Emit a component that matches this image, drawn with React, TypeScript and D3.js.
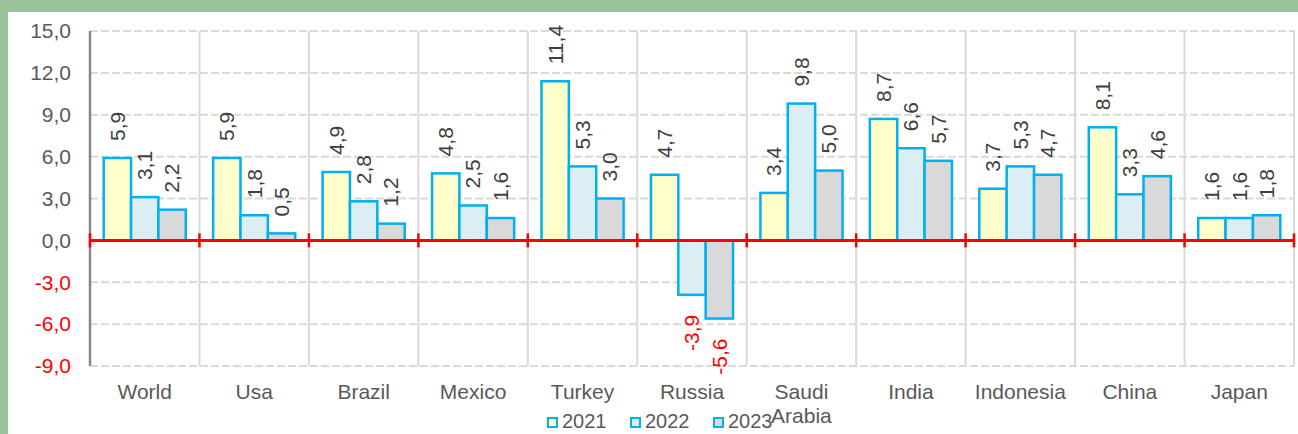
import * as d3 from 'd3';

const countries = ['World', 'Usa', 'Brazil', 'Mexico', 'Turkey', 'Russia', 'Saudi Arabia', 'India', 'Indonesia', 'China', 'Japan'];
const years = ['2021', '2022', '2023'];
const values2021 = [5.9, 5.9, 4.9, 4.8, 11.4, 4.7, 3.4, 8.7, 3.7, 8.1, 1.6];
const values2022 = [3.1, 1.8, 2.8, 2.5, 5.3, -3.9, 9.8, 6.6, 5.3, 3.3, 1.6];
const values2023 = [2.2, 0.5, 1.2, 1.6, 3.0, -5.6, 5.0, 5.7, 4.7, 4.6, 1.8];
const yTicks = [15, 12, 9, 6, 3, 0, -3, -6, -9];

const fills = ['#FFFFCC', '#DAEEF3', '#D9D9D9'];
const edge = '#00B0F0';
const font = '"Liberation Sans", Arial, sans-serif';

const fmt = (v: number) => v.toFixed(1).replace('.', ',');

export default function App() {
  const W = 1298, H = 434;
  const left = 90, right = 1294, top = 31, bottom = 366;

  const y = d3.scaleLinear().domain([-9, 15]).range([bottom, top]);
  const x0 = d3.scaleBand<string>().domain(countries).range([left, right]).paddingInner(0.25).paddingOuter(0.125);
  const x1 = d3.scaleBand<string>().domain(years).range([0, x0.bandwidth()]);
  const step = x0.step();
  const bounds = d3.range(countries.length + 1).map(i => left + i * step);

  const series = [values2021, values2022, values2023];
  const rows = countries.map((c, i) => ({ c, vals: series.map(s => s[i]) }));

  return (
    <svg width={W} height={H} style={{ position: 'absolute', left: 0, top: 0 }} fontFamily={font}>
      <rect x={0} y={0} width={W} height={H} fill="#9BC39B" />
      <rect x={8} y={12} width={W - 8} height={H - 12} fill="#fff" />

      {/* horizontal dashed grid */}
      {yTicks.filter(t => t !== 0).map(t => (
        <line key={t} x1={left} x2={right} y1={y(t)} y2={y(t)} stroke="#D9D9D9" strokeWidth={2} strokeDasharray="8,3" />
      ))}
      {/* category dividers */}
      {bounds.slice(1).map((b, i) => (
        <line key={i} x1={b} x2={b} y1={top} y2={bottom} stroke="#D9D9D9" strokeWidth={2} />
      ))}
      <line x1={left} x2={left} y1={top} y2={bottom} stroke="#878787" strokeWidth={2.5} />

      {/* y tick labels */}
      {yTicks.map(t => (
        <text key={t} x={71} y={y(t)} dy="0.35em" textAnchor="end" fontSize={21}
          fill={t < 0 ? '#FF0000' : '#595959'}>{fmt(t)}</text>
      ))}

      {/* bars */}
      {rows.map(r => (
        <g key={r.c} transform={`translate(${x0(r.c)},0)`}>
          {r.vals.map((v, j) => (
            <rect key={j} x={x1(years[j])} y={y(Math.max(0, v))} width={x1.bandwidth()}
              height={Math.abs(y(v) - y(0))} fill={fills[j]} stroke={edge} strokeWidth={2.5} />
          ))}
          {r.vals.map((v, j) => {
            const cx = (x1(years[j]) ?? 0) + x1.bandwidth() / 2;
            const yy = v >= 0 ? y(v) - 17 : y(v) + 20;
            return (
              <text key={'l' + j} transform={`translate(${cx},${yy}) rotate(-90)`} dy="0.35em"
                textAnchor={v >= 0 ? 'start' : 'end'} fontSize={21}
                fill={v < 0 ? '#FF0000' : '#404040'}>{fmt(v)}</text>
            );
          })}
        </g>
      ))}

      {/* zero axis */}
      <line x1={left} x2={right} y1={y(0)} y2={y(0)} stroke="#FF0000" strokeWidth={3} />
      {bounds.map((b, i) => (
        <line key={i} x1={b} x2={b} y1={y(0) - 7} y2={y(0) + 7} stroke="#FF0000" strokeWidth={2.5} />
      ))}

      {/* category labels */}
      {countries.map(c => {
        const cx = (x0(c) ?? 0) + x0.bandwidth() / 2;
        const parts = c.split(' ');
        return (
          <text key={c} x={cx} y={399} textAnchor="middle" fontSize={21} fill="#595959">
            {parts.map((p, k) => (
              <tspan key={k} x={cx} dy={k === 0 ? 0 : 24}>{p}</tspan>
            ))}
          </text>
        );
      })}

      {/* legend */}
      {years.map((yr, j) => (
        <g key={yr} transform={`translate(${547 + j * 83},0)`}>
          <rect x={1} y={418} width={9} height={9} fill={fills[j]} stroke={edge} strokeWidth={2} />
          <text x={15} y={428} fontSize={20} fill="#595959">{yr}</text>
        </g>
      ))}
    </svg>
  );
}
